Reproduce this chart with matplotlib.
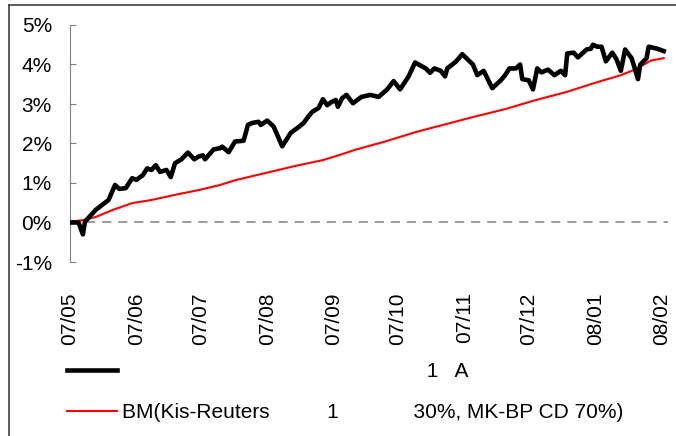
from datetime import datetime
import matplotlib
matplotlib.use('Agg')
import matplotlib.pyplot as plt
import matplotlib.dates as mdates
from matplotlib.lines import Line2D

# 펀드 수익률 (black)
fund_dates = ['2007-05-01', '2007-05-05', '2007-05-07', '2007-05-08', '2007-05-13', '2007-05-19',
              '2007-05-22', '2007-05-24', '2007-05-27', '2007-05-30', '2007-06-01', '2007-06-04',
              '2007-06-06', '2007-06-08', '2007-06-10', '2007-06-12', '2007-06-15', '2007-06-17',
              '2007-06-19', '2007-06-22', '2007-06-25', '2007-06-28', '2007-06-30', '2007-07-02',
              '2007-07-03', '2007-07-07', '2007-07-10', '2007-07-11', '2007-07-14', '2007-07-17',
              '2007-07-21', '2007-07-23', '2007-07-25', '2007-07-28', '2007-07-29', '2007-08-01',
              '2007-08-04', '2007-08-08', '2007-08-12', '2007-08-16', '2007-08-18', '2007-08-20',
              '2007-08-22', '2007-08-25', '2007-08-27', '2007-08-29', '2007-08-31', '2007-09-02',
              '2007-09-03', '2007-09-05', '2007-09-07', '2007-09-10', '2007-09-14', '2007-09-18',
              '2007-09-22', '2007-09-26', '2007-09-29', '2007-10-02', '2007-10-06', '2007-10-09',
              '2007-10-14', '2007-10-16', '2007-10-18', '2007-10-21', '2007-10-23', '2007-10-24',
              '2007-10-28', '2007-10-31', '2007-11-05', '2007-11-07', '2007-11-10', '2007-11-14',
              '2007-11-18', '2007-11-20', '2007-11-22', '2007-11-25', '2007-11-27', '2007-11-28',
              '2007-12-01', '2007-12-03', '2007-12-05', '2007-12-07', '2007-12-10', '2007-12-13',
              '2007-12-16', '2007-12-18', '2007-12-19', '2007-12-22', '2007-12-24', '2007-12-28',
              '2007-12-30', '2007-12-31', '2008-01-02', '2008-01-04', '2008-01-06', '2008-01-09',
              '2008-01-11', '2008-01-13', '2008-01-15', '2008-01-18', '2008-01-19', '2008-01-21',
              '2008-01-22', '2008-01-25', '2008-01-26', '2008-01-30', '2008-02-02']
fund_values = [0.00, 0.00, -0.30, 0.02, 0.32, 0.57,
               0.95, 0.85, 0.87, 1.12, 1.08, 1.20,
               1.37, 1.33, 1.45, 1.28, 1.33, 1.15,
               1.50, 1.60, 1.77, 1.60, 1.67, 1.70,
               1.60, 1.85, 1.88, 1.92, 1.78, 2.05,
               2.07, 2.47, 2.52, 2.55, 2.47, 2.58,
               2.43, 1.93, 2.27, 2.43, 2.52, 2.67,
               2.80, 2.90, 3.12, 2.97, 3.05, 3.10,
               2.93, 3.15, 3.23, 3.02, 3.18, 3.23,
               3.18, 3.37, 3.58, 3.37, 3.70, 4.05,
               3.90, 3.79, 3.90, 3.84, 3.70, 3.90,
               4.07, 4.26, 4.00, 3.73, 3.84, 3.40,
               3.60, 3.73, 3.90, 3.90, 4.00, 3.63,
               3.60, 3.37, 3.90, 3.80, 3.87, 3.73,
               3.84, 3.73, 4.28, 4.30, 4.18, 4.38,
               4.40, 4.50, 4.45, 4.45, 4.08, 4.30,
               4.13, 3.84, 4.38, 4.16, 3.99, 3.63,
               3.99, 4.16, 4.45, 4.40, 4.34]

# BM (red)
bm_dates = ['2007-05-01', '2007-05-07', '2007-05-13', '2007-05-21', '2007-05-30', '2007-06-08',
            '2007-06-19', '2007-06-30', '2007-07-10', '2007-07-17', '2007-07-31', '2007-08-14',
            '2007-08-27', '2007-09-05', '2007-09-11', '2007-09-25', '2007-10-10', '2007-10-22',
            '2007-11-05', '2007-11-20', '2007-12-03', '2007-12-19', '2007-12-31', '2008-01-13',
            '2008-01-20', '2008-01-27', '2008-02-02']
bm_values = [0.02, 0.06, 0.14, 0.32, 0.49, 0.57,
             0.70, 0.82, 0.95, 1.07, 1.25, 1.43,
             1.58, 1.73, 1.84, 2.05, 2.30, 2.47,
             2.67, 2.87, 3.08, 3.31, 3.52, 3.73,
             3.88, 4.10, 4.16]

fund_label = ' ' * 53 + '1   A'
bm_label = 'BM(Kis-Reuters' + ' ' * 10 + '1' + ' ' * 13 + '30%, MK-BP CD 70%)'

fund_x = [datetime.strptime(d, '%Y-%m-%d') for d in fund_dates]
bm_x = [datetime.strptime(d, '%Y-%m-%d') for d in bm_dates]

plt.rcParams['font.family'] = ['Liberation Sans', 'DejaVu Sans']

fig = plt.figure(figsize=(6.76, 4.36), dpi=100)
ax = fig.add_axes([70 / 676, 1 - 262 / 436, 598 / 676, 237 / 436])

ax.axhline(0, color='#808080', lw=1.1, dashes=(6, 4.5), zorder=1)
ax.plot(fund_x, fund_values, color='black', lw=3.3, solid_joinstyle='round', zorder=3)
ax.plot(bm_x, bm_values, color='#ff0000', lw=1.5, zorder=2)

ax.set_ylim(-1, 5)
ax.set_xlim(datetime(2007, 5, 1), datetime(2008, 2, 4))
ax.set_yticks(range(-1, 6))
ax.set_yticklabels([f'{v}%' for v in range(-1, 6)])

ax.xaxis.set_major_locator(mdates.MonthLocator())
ax.xaxis.set_major_formatter(mdates.DateFormatter('%y/%m'))

for side in ['top', 'right', 'bottom']:
    ax.spines[side].set_visible(False)
ax.spines['left'].set_color('#808080')
ax.spines['left'].set_linewidth(0.8)

ax.tick_params(axis='y', direction='in', length=4, width=0.8, color='#808080',
               labelsize=15, pad=13)
ax.tick_params(axis='x', length=0, labelsize=15, pad=22, labelrotation=90)

handles = [Line2D([], [], color='black', lw=3.3),
           Line2D([], [], color='#ff0000', lw=1.5)]
fig.legend(handles, [fund_label, bm_label], loc='upper left',
           bbox_to_anchor=(67 / 676, 1 - 362 / 436), frameon=False, fontsize=15,
           handlelength=2.4, handletextpad=0.25, borderpad=0, borderaxespad=0,
           labelspacing=1.05)

# outer frame (left and top edges only visible)
fig.add_artist(Line2D([9 / 676, 9 / 676], [0, 1 - 5 / 436], color='#404040', lw=1.2))
fig.add_artist(Line2D([9 / 676, 1], [1 - 5 / 436, 1 - 5 / 436], color='#404040', lw=1.2))

fig.savefig('out.png', dpi=100)
